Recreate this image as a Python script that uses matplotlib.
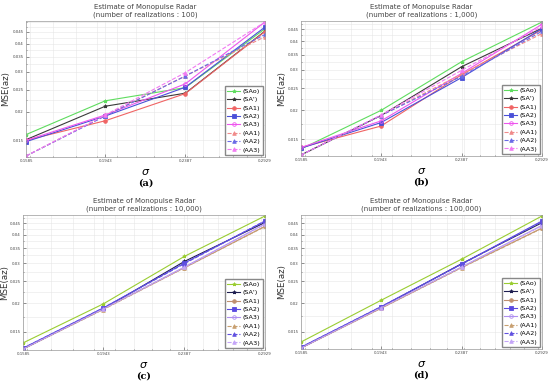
#!/usr/bin/env python3

import matplotlib
matplotlib.use('Agg')
import matplotlib.pyplot as plt
import matplotlib.ticker as ticker

# sigma values (x axis, log scale)
sigma = [0.1585, 0.1943, 0.2387, 0.2929]
sigma_labels = ['0.1585', '0.1943', '0.2387', '0.2929']

y_ticks = [0.015, 0.02, 0.025, 0.03, 0.035, 0.04, 0.045]
y_tick_labels = ['0.015', '0.02', '0.025', '0.03', '0.035', '0.04', '0.045']

series_names = ['(SAo)', "(SA')", '(SA1)', '(SA2)', '(SA3)', '(AA1)', '(AA2)', '(AA3)']

# MSE(az), one list per series
mse_100 = [
    [0.0159, 0.0224, 0.0256, 0.0465],
    [0.0151, 0.0212, 0.0242, 0.0454],
    [0.0150, 0.0183, 0.0241, 0.0452],
    [0.0148, 0.0192, 0.0257, 0.0473],
    [0.0150, 0.0194, 0.0266, 0.0498],
    [0.0128, 0.0193, 0.0288, 0.0429],
    [0.0128, 0.0192, 0.0288, 0.0439],
    [0.0128, 0.0194, 0.0298, 0.0498],
]
mse_1000 = [
    [0.0136, 0.0200, 0.0326, 0.0485],
    [0.0128, 0.0190, 0.0310, 0.0456],
    [0.0138, 0.0171, 0.0286, 0.0449],
    [0.0137, 0.0177, 0.0278, 0.0454],
    [0.0138, 0.0180, 0.0290, 0.0474],
    [0.0128, 0.0190, 0.0288, 0.0432],
    [0.0128, 0.0190, 0.0282, 0.0442],
    [0.0128, 0.0191, 0.0299, 0.0464],
]
mse_10000 = [
    [0.0134, 0.0199, 0.0322, 0.0485],
    [0.0126, 0.0189, 0.0306, 0.0454],
    [0.0126, 0.0189, 0.0287, 0.0437],
    [0.0127, 0.0191, 0.0301, 0.0460],
    [0.0126, 0.0189, 0.0289, 0.0448],
    [0.0126, 0.0188, 0.0287, 0.0436],
    [0.0127, 0.0191, 0.0299, 0.0462],
    [0.0126, 0.0189, 0.0288, 0.0446],
]
mse_100000 = [
    [0.0135, 0.0206, 0.0313, 0.0485],
    [0.0127, 0.0192, 0.0299, 0.0453],
    [0.0127, 0.0190, 0.0288, 0.0429],
    [0.0128, 0.0193, 0.0298, 0.0461],
    [0.0127, 0.0191, 0.0289, 0.0441],
    [0.0127, 0.0190, 0.0287, 0.0428],
    [0.0128, 0.0193, 0.0297, 0.0458],
    [0.0127, 0.0191, 0.0289, 0.0439],
]

colores_arriba = ['#5fdc5f', '#3a3a3a', '#f06464', '#4a50d8', '#ee55ee', '#f08a8a', '#6a6ae6', '#f27af2']
colores_abajo = ['#9acd32', '#1e1e50', '#c09070', '#5a4ae0', '#b090f0', '#c8a070', '#6050e0', '#c4a4f8']
marcadores = ['*', '*', 'o', 's', 'o', '^', '^', '^']
estilos = ['-', '-', '-', '-', '-', '--', '--', '--']

W, H = 550, 388


def panel(rect, datos, colores, n_real, caption, ylabel_x):
    l, t, r, b = rect
    ax = fig.add_axes([l / W, 1 - b / H, (r - l) / W, (b - t) / H])
    for i, nombre in enumerate(series_names):
        relleno = 'none' if marcadores[i] == 'o' and i == 4 else colores[i]
        ax.plot(sigma, datos[i], linestyle=estilos[i], color=colores[i], lw=0.8,
                marker=marcadores[i], ms=2.6, mfc=relleno, mew=0.6, label=nombre)
    ax.set_xscale('log')
    ax.set_yscale('log')
    ax.set_xlim(sigma[0], sigma[-1])
    todos = [v for s in datos for v in s]
    ax.set_ylim(min(todos) * 0.99, max(todos) * 1.01)

    ax.xaxis.set_major_locator(ticker.FixedLocator(sigma))
    ax.xaxis.set_major_formatter(ticker.FixedFormatter(sigma_labels))
    ax.xaxis.set_minor_locator(ticker.MultipleLocator(0.01))
    ax.xaxis.set_minor_formatter(ticker.NullFormatter())
    ax.yaxis.set_major_locator(ticker.FixedLocator(y_ticks))
    ax.yaxis.set_major_formatter(ticker.FixedFormatter(y_tick_labels))
    ax.yaxis.set_minor_locator(ticker.MultipleLocator(0.0025))
    ax.yaxis.set_minor_formatter(ticker.NullFormatter())
    ax.tick_params(which='both', direction='in', labelsize=2.8, length=2, width=0.4,
                   colors='#444444', pad=1.5)
    ax.tick_params(which='minor', length=1)
    ax.grid(True, which='both', color='#e6e6e6', lw=0.4)
    for sp in ax.spines.values():
        sp.set_color('#999999')
        sp.set_linewidth(0.5)

    ax.set_title('Estimate of Monopulse Radar\n(number of realizations : %s)' % n_real,
                 fontsize=5, color='#444444', pad=3, linespacing=1.3)
    ax.set_xlabel(r'$\sigma$', fontsize=8, labelpad=3)
    fig.text(ylabel_x / W, 1 - ((t + b) / 2) / H, 'MSE(az)', rotation=90,
             fontsize=6.2, color='#333333', ha='center', va='center')
    fig.text(((l + r) / 2) / W, 1 - (b + 26) / H, caption, fontsize=7,
             fontweight='bold', family='DejaVu Serif', ha='center', va='center')

    ax.legend(loc='lower right', fontsize=4.6, handlelength=2.0, handletextpad=0.4,
              borderpad=0.4, labelspacing=0.45, fancybox=False, edgecolor='#888888',
              framealpha=1, borderaxespad=0.3)
    return ax


fig = plt.figure(figsize=(5.5, 3.88), dpi=100)

panel((26, 21, 265, 157), mse_100, colores_arriba, '100', '(a)', 6)
panel((301, 21, 542, 156), mse_1000, colores_arriba, '1,000', '(b)', 282)
panel((23, 215, 265, 350), mse_10000, colores_abajo, '10,000', '(c)', 5)
panel((301, 215, 542, 349), mse_100000, colores_abajo, '100,000', '(d)', 282)

fig.savefig('out.png', dpi=100)
